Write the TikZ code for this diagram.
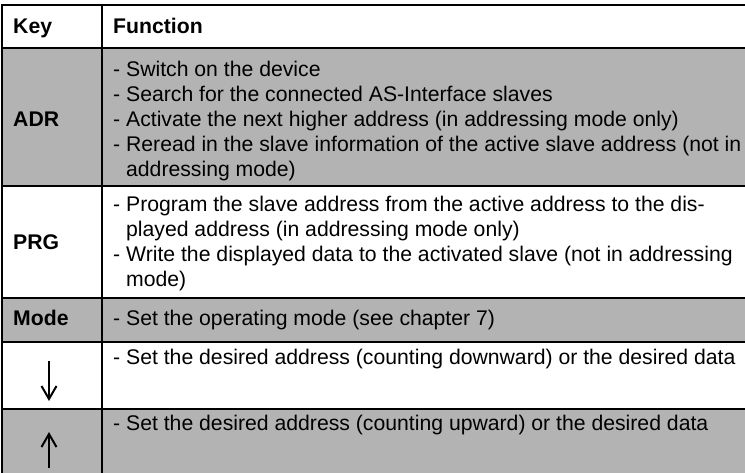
\documentclass[tikz,border=0pt]{standalone}
\usepackage{fontspec}
\setmainfont{Liberation Sans}
\usetikzlibrary{arrows.meta}
\definecolor{rowgray}{RGB}{179,179,179}
\tikzset{
  cell/.style={anchor=base west, inner sep=0pt, font=\fontsize{21.2}{25}\selectfont},
  keycell/.style={cell, font=\fontsize{21.2}{25}\selectfont\bfseries},
  rule/.style={line width=2pt, line cap=rect},
  keyarrow/.style={line width=2pt, -{Straight Barb[length=13pt,width=15pt]}},
}
\newcommand{\celltext}[1]{\parbox[t]{700pt}{\raggedright #1}}
\begin{document}
\begin{tikzpicture}[x=1pt,y=-1pt]
\useasboundingbox (0,0) rectangle (745,472);
\fill[white] (0,0) rectangle (745,472);
% shaded rows
\fill[rowgray] (2,48) rectangle (750,186);
\fill[rowgray] (2,298) rectangle (750,342);
\fill[rowgray] (2,409) rectangle (750,480);
% horizontal rules
\draw[rule] (2,5) -- (750,5);
\draw[rule] (2,48) -- (750,48);
\draw[rule] (2,186) -- (750,186);
\draw[rule] (2,298) -- (750,298);
\draw[rule] (2,342) -- (750,342);
\draw[rule] (2,409) -- (750,409);
% vertical rules
\draw[rule] (2,5) -- (2,480);
\draw[rule] (102,5) -- (102,480);
% header
\node[keycell] (hkey) at (13,33) {Key};
\node[keycell] (hfun) at (113,33) {Function};
% ADR
\node[keycell] (kadr) at (13,126) {ADR};
\node[cell] (fadr) at (113,76.5) {\celltext{- Switch on the device\\
- Search for the connected AS-Interface slaves\\
- Activate the next higher address (in addressing mode only)\\
- Reread in the slave information of the active slave address (not in\\
\hphantom{- }addressing mode)}};
% PRG
\node[keycell] (kprg) at (13,249) {PRG};
\node[cell] (fprg) at (113,211.5) {\celltext{- Program the slave address from the active address to the dis-\\
\hphantom{- }played address (in addressing mode only)\\
- Write the displayed data to the activated slave (not in addressing\\
\hphantom{- }mode)}};
% Mode
\node[keycell] (kmode) at (13,325.5) {Mode};
\node[cell] (fmode) at (113,325.5) {- Set the operating mode (see chapter 7)};
% down
\coordinate (dtop) at (49,361);
\coordinate (dbot) at (49,401);
\draw[keyarrow] (dtop) -- (dbot);
\node[cell] (fdown) at (113,364) {- Set the desired address (counting downward) or the desired data};
% up
\coordinate (ubot) at (49,468);
\coordinate (utop) at (49,432);
\draw[keyarrow] (ubot) -- (utop);
\node[cell] (fup) at (113,430.5) {- Set the desired address (counting upward) or the desired data};
\end{tikzpicture}
\end{document}
